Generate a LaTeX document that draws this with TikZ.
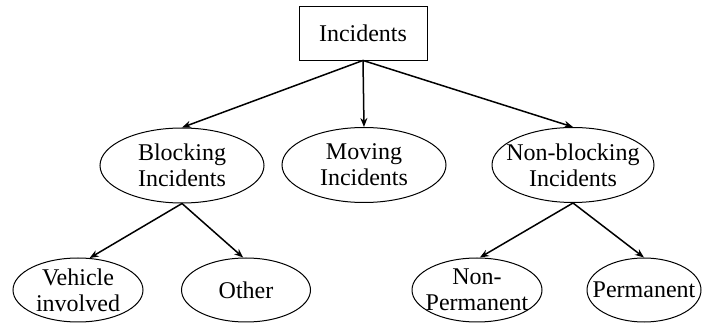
\documentclass[tikz,border=0pt]{standalone}
\usepackage{fontspec}
\setmainfont{Liberation Serif}
\usetikzlibrary{shapes.geometric,arrows.meta}
\begin{document}
\begin{tikzpicture}[x=1pt,y=-1pt,
  lbl/.style={font=\fontsize{24}{26}\selectfont, align=center, inner sep=0pt},
  rootbox/.style={lbl, draw, line width=0.9pt, minimum width=128pt, minimum height=54pt},
  oval/.style={draw, ellipse, line width=1pt, inner sep=0pt},
  midoval/.style={oval, minimum width=164pt, minimum height=75pt},
  lowoval/.style={oval, minimum width=130pt, minimum height=64pt},
  conn/.style={line width=1.5pt, -{Stealth[length=9pt,width=7pt]}}]
\useasboundingbox (0,0) rectangle (702,323);
\node[rootbox] (inc) at (363,33) {Incidents};
\node[midoval] (blk) at (182,165.5) {};
\node[midoval] (mov) at (364,165) {};
\node[midoval, minimum width=162pt] (nbk) at (573,165) {};
\node[lowoval] (veh) at (78,290) {};
\node[lowoval, minimum width=129pt] (oth) at (246,290) {};
\node[lowoval] (npm) at (477,290) {};
\node[lowoval, minimum width=114pt] (pm) at (644,290) {};
\node[lbl] (blkt) at (blk) {Blocking\\Incidents};
\node[lbl] (movt) at (mov) {Moving\\Incidents};
\node[lbl] (nbkt) at (nbk) {Non-blocking\\Incidents};
\node[lbl] (veht) at (veh) {Vehicle\\involved};
\node[lbl] (otht) at (oth) {Other};
\node[lbl] (npmt) at (npm) {Non-\\Permanent};
\node[lbl] (pmt) at (pm) {Permanent};
\draw[conn] (inc.south) -- (blk.north);
\draw[conn] (inc.south) -- (mov.north);
\draw[conn] (inc.south) -- (nbk.north);
\draw[conn] (blk.south) -- (veh.70);
\draw[conn] (blk.south) -- (oth.95);
\draw[conn] (nbk.south) -- (npm.85);
\draw[conn] (nbk.south) -- (pm.north);
\end{tikzpicture}
\end{document}
